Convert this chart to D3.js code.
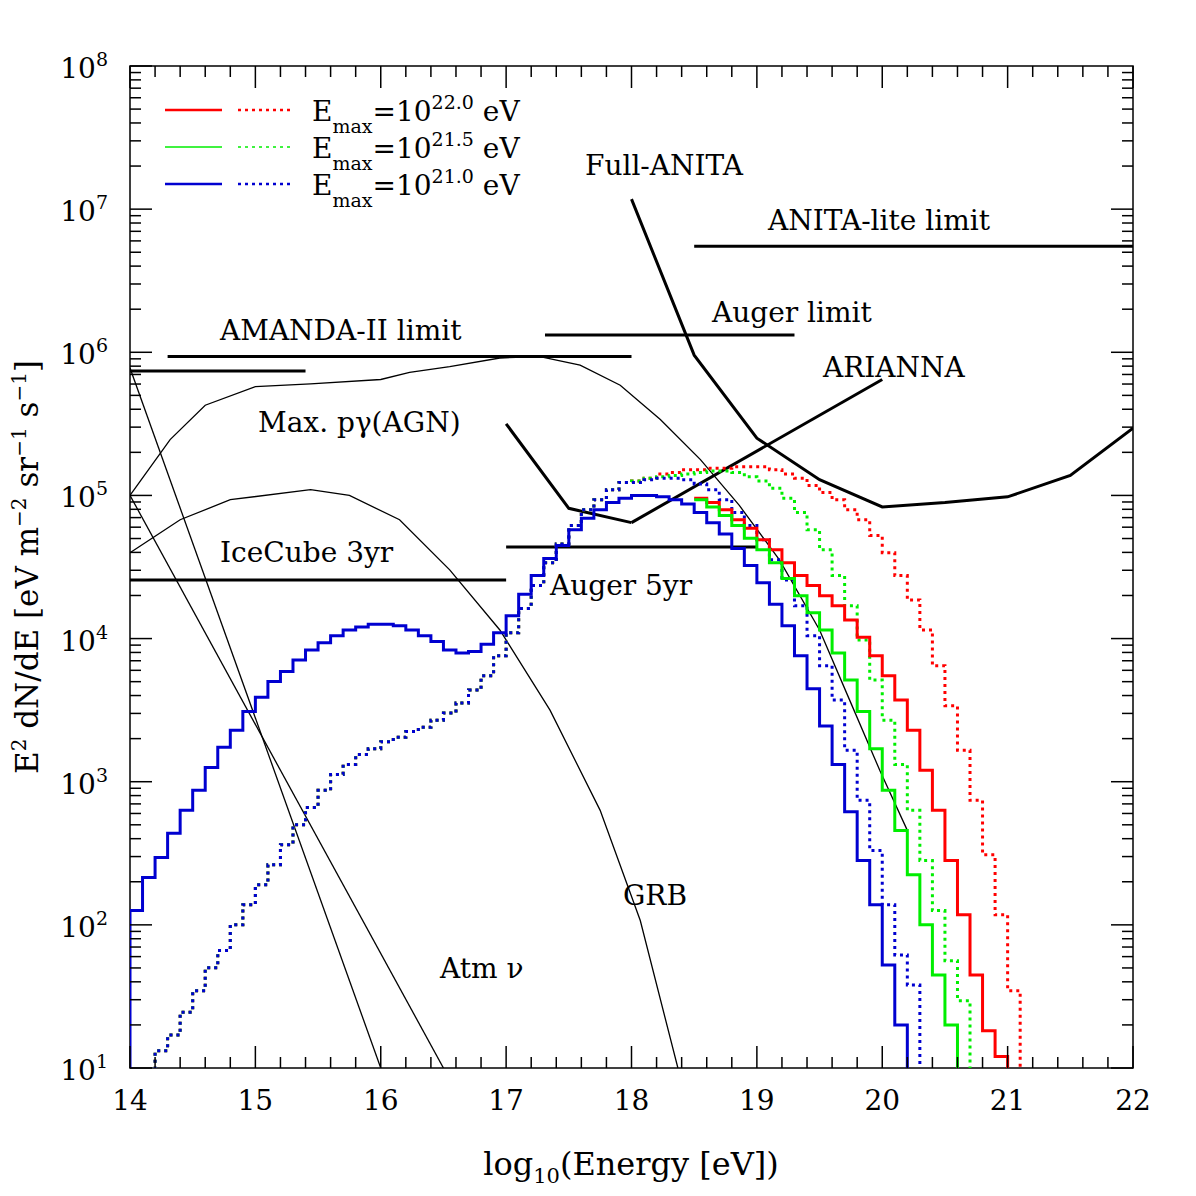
<!DOCTYPE html>
<html><head><meta charset="utf-8">
<script src="https://cdn.jsdelivr.net/npm/d3@7"></script>
<style>body{margin:0;background:#fff}text{font-family:"DejaVu Serif",serif;fill:#000}</style>
</head><body><svg id="c" width="1196" height="1196"></svg>
<script>
// Data: log10 of E^2 dN/dE per 0.1-wide bin in log10(E)
const blueSolidStart = 14.0;
const blueSolid = [2.10,2.33,2.47,2.64,2.80,2.94,3.10,3.24,3.36,3.49,3.59,3.70,3.77,3.85,3.92,3.97,4.02,4.06,4.08,4.10,4.10,4.09,4.06,4.02,3.98,3.92,3.90,3.91,3.96,4.04,4.16,4.31,4.44,4.56,4.65,4.76,4.84,4.90,4.95,4.98,5.00,5.00,4.99,4.97,4.94,4.88,4.81,4.73,4.63,4.51,4.39,4.24,4.09,3.88,3.65,3.39,3.12,2.79,2.45,2.14,1.72,1.30];
const greenSolidStart = 18.5;
const greenSolid = [4.97,4.92,4.86,4.79,4.70,4.62,4.53,4.42,4.30,4.18,4.06,3.90,3.71,3.49,3.23,2.94,2.66,2.35,2.00,1.65,1.30];
const redSolidStart = 18.5;
const redSolid = [4.98,4.95,4.90,4.83,4.77,4.69,4.62,4.53,4.44,4.37,4.30,4.23,4.13,4.01,3.88,3.74,3.57,3.36,3.08,2.80,2.45,2.07,1.65,1.26,1.08];
const dottedLowStart = 14.1;
const dottedLow = [0.95,1.12,1.23,1.39,1.54,1.70,1.82,2.00,2.14,2.28,2.42,2.56,2.70,2.82,2.94,3.05,3.12,3.19,3.23,3.28,3.31,3.35,3.38,3.43,3.48,3.55,3.64,3.74,3.88,4.04,4.21,4.37,4.53,4.66,4.79,4.90,4.97,5.04,5.09];
const blueDottedHigh = [5.09,5.11,5.12,5.12,5.11,5.08,5.04,4.97,4.88,4.79,4.69,4.55,4.41,4.23,4.02,3.81,3.57,3.22,2.87,2.52,2.14,1.79,1.58];
const greenDottedHigh = [5.10,5.12,5.13,5.14,5.15,5.16,5.17,5.17,5.16,5.13,5.10,5.05,4.98,4.88,4.76,4.62,4.44,4.23,3.99,3.71,3.43,3.12,2.80,2.45,2.10,1.75,1.47];
const redDottedHigh = [5.10,5.12,5.15,5.16,5.18,5.18,5.19,5.19,5.20,5.20,5.20,5.18,5.15,5.12,5.07,5.02,4.97,4.90,4.83,4.72,4.60,4.44,4.27,4.06,3.81,3.53,3.22,2.87,2.49,2.07,1.54];
// Limits (log10 E, log10 flux)
const amanda = [[14.3,5.97],[18.0,5.97]];
const amandaShort = [[14.0,5.87],[15.4,5.87]];
const augerLimit = [[17.31,6.12],[19.3,6.12]];
const anitaLite = [[18.5,6.74],[22.0,6.74]];
const icecube = [[14.0,4.41],[17.0,4.41]];
const auger5 = [[17.0,4.64],[19.0,4.64]];
const maxPg = [[17.0,5.50],[17.5,4.91],[18.0,4.81]];
const arianna = [[18.0,4.81],[20.0,5.81]];
const fullAnita = [[18.0,7.07],[18.5,5.98],[19.0,5.40],[19.5,5.11],[20.0,4.92],[20.5,4.95],[21.0,4.99],[21.5,5.14],[22.0,5.47]];
const atm1 = [[14.0,5.89],[16.0,1.0]];
const atm2 = [[14.0,5.0],[16.5,1.0]];
const envelope = [[14.0,5.00],[14.32,5.39],[14.6,5.63],[15.0,5.76],[15.44,5.78],[16.0,5.81],[16.23,5.86],[16.55,5.90],[16.95,5.96],[17.27,5.97],[17.59,5.91],[17.91,5.77],[18.23,5.53],[18.55,5.25],[18.86,4.93],[19.18,4.55],[19.5,4.06],[19.74,3.57],[19.98,3.08],[20.2,2.66]];
const grb = [[14.0,4.60],[14.4,4.83],[14.8,4.97],[15.44,5.04],[15.75,5.00],[16.15,4.83],[16.55,4.48],[16.95,4.06],[17.35,3.50],[17.75,2.80],[18.07,2.03],[18.37,1.0]];
const xTicks = [14,15,16,17,18,19,20,21,22];
const yTicks = [1,2,3,4,5,6,7,8];
const legendItems = [{c:"#ff0000",e:"22.0",w:2.5},{c:"#00ee00",e:"21.5",w:1.5},{c:"#0000d0",e:"21.0",w:2.5}];

const svg = d3.select("#c");
const L=130,R=1133,T=66,B=1068;
const x = d3.scaleLinear().domain([14,22]).range([L,R]);
const y = d3.scaleLinear().domain([1,8]).range([B,T]);
const g = svg.append("g");
svg.append("clipPath").attr("id","cp").append("rect").attr("x",L).attr("y",T).attr("width",R-L).attr("height",B-T);
const pg = svg.append("g").attr("clip-path","url(#cp)");

function hist(start, vals, fromZero){
  const pts=[];
  vals.forEach((v,i)=>{const a=start+i*0.1; pts.push([a,v],[a+0.1,v]);});
  if(fromZero) pts.unshift([start,0]);
  pts.push([start+vals.length*0.1,0]);
  return pts;
}
const line = d3.line().x(d=>x(d[0])).y(d=>y(d[1]));
function draw(pts,col,w,dash){
  pg.append("path").attr("d",line(pts)).attr("fill","none").attr("stroke",col).attr("stroke-width",w).attr("stroke-dasharray",dash||null);
}
[atm1,atm2,envelope,grb].forEach(p=>draw(p,"#000",1.3));
[amanda,amandaShort,augerLimit,anitaLite,icecube,auger5,maxPg,arianna,fullAnita].forEach(p=>draw(p,"#000",3));
draw(hist(dottedLowStart,dottedLow.concat(redDottedHigh),true),"#ff0000",3,"3,4");
draw(hist(dottedLowStart,dottedLow.concat(greenDottedHigh),true),"#00ee00",3,"3,4");
draw(hist(dottedLowStart,dottedLow.concat(blueDottedHigh),true),"#0000d0",3,"3,4");
draw(hist(redSolidStart,redSolid,false),"#ff0000",3);
draw(hist(greenSolidStart,greenSolid,false),"#00ee00",3);
draw(hist(blueSolidStart,blueSolid,true),"#0000d0",3);

g.append("rect").attr("x",L).attr("y",T).attr("width",R-L).attr("height",B-T).attr("fill","none").attr("stroke","#000").attr("stroke-width",1.5);
const tk = svg.append("g").attr("stroke","#000").attr("stroke-width",1.5);
for(let v=14; v<=22.001; v+=0.2){
  const big = Math.abs(v-Math.round(v))<1e-6; const len=big?22:11; const px=x(v);
  tk.append("line").attr("x1",px).attr("x2",px).attr("y1",B).attr("y2",B-len);
  tk.append("line").attr("x1",px).attr("x2",px).attr("y1",T).attr("y2",T+len);
}
for(let d=1; d<8; d++) for(let m=1;m<=9;m++){
  const v=d+Math.log10(m); const len=m===1?22:11; const py=y(v);
  tk.append("line").attr("x1",L).attr("x2",L+len).attr("y1",py).attr("y2",py);
  tk.append("line").attr("x1",R).attr("x2",R-len).attr("y1",py).attr("y2",py);
}
tk.append("line").attr("x1",L).attr("x2",L+22).attr("y1",y(8)).attr("y2",y(8));
xTicks.forEach(t=>svg.append("text").attr("x",x(t)).attr("y",B+42).attr("text-anchor","middle").attr("font-size",28).text(t));
yTicks.forEach(t=>{
  const tx=svg.append("text").attr("x",108).attr("y",y(t)+12).attr("text-anchor","end").attr("font-size",28);
  tx.append("tspan").text("10");
  tx.append("tspan").attr("dy",-12).attr("font-size",19).text(t);
});
svg.append("text").attr("x",631).attr("y",1175).attr("text-anchor","middle").attr("font-size",32)
  .html('log<tspan font-size="21" dy="8">10</tspan><tspan dy="-8">(Energy [eV])</tspan>');
svg.append("text").attr("transform","translate(38,567) rotate(-90)").attr("text-anchor","middle").attr("font-size",31)
  .html('E<tspan font-size="20" dy="-12">2</tspan><tspan dy="12"> dN/dE [eV m</tspan><tspan font-size="20" dy="-12">−2</tspan><tspan dy="12"> sr</tspan><tspan font-size="20" dy="-12">−1</tspan><tspan dy="12"> s</tspan><tspan font-size="20" dy="-12">−1</tspan><tspan dy="12">]</tspan>');

legendItems.forEach((it,i)=>{
  const yy=110+i*37;
  svg.append("line").attr("x1",165).attr("x2",222).attr("y1",yy).attr("y2",yy).attr("stroke",it.c).attr("stroke-width",it.w);
  svg.append("line").attr("x1",238).attr("x2",293).attr("y1",yy).attr("y2",yy).attr("stroke",it.c).attr("stroke-width",it.w).attr("stroke-dasharray","3,4");
  svg.append("text").attr("x",312).attr("y",yy+11).attr("font-size",28)
    .html(`E<tspan font-size="19" dy="12">max</tspan><tspan dy="-12">=10</tspan><tspan font-size="19" dy="-12">${it.e}</tspan><tspan dy="12"> eV</tspan>`);
});
const notes=[["Full-ANITA",585,175],["ANITA-lite limit",768,230],["Auger limit",712,322],["AMANDA-II limit",220,340],["ARIANNA",823,377],["Max. pγ(AGN)",258,432],["IceCube 3yr",220,562],["Auger 5yr",550,595],["GRB",623,905],["Atm ν",440,978]];
notes.forEach(n=>svg.append("text").attr("x",n[1]).attr("y",n[2]).attr("font-size",28).text(n[0]));
</script></body></html>
